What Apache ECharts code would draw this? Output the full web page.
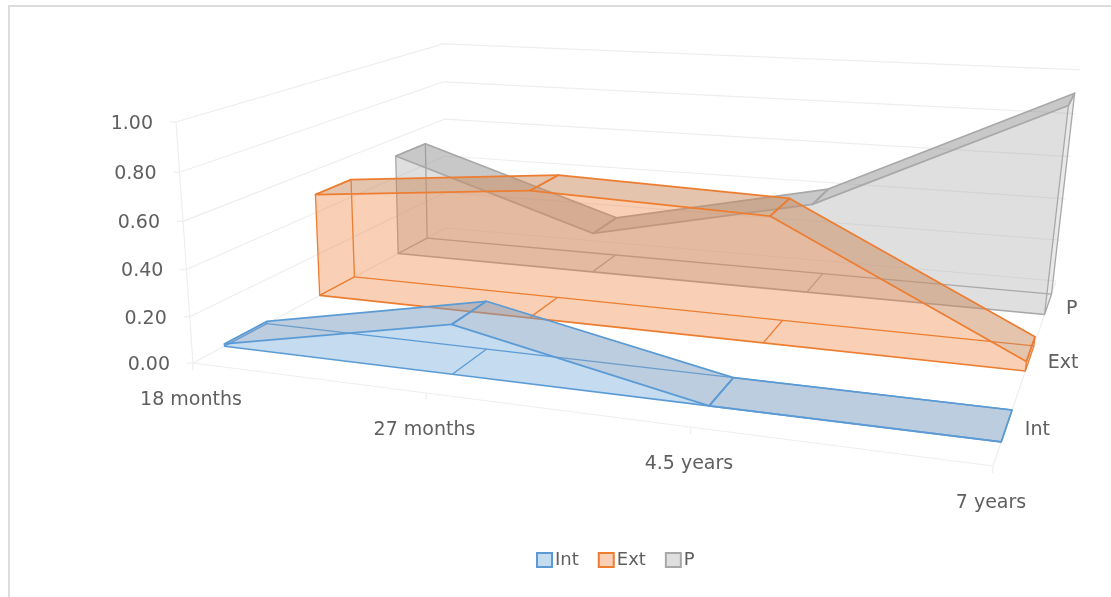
<!DOCTYPE html>
<html>
<head>
<meta charset="utf-8">
<title>Int, Ext and P by age</title>
<style>html,body{margin:0;padding:0;background:#fff}#chart{width:1111px;height:597px}</style>
<script src="https://cdn.jsdelivr.net/npm/echarts@6/dist/echarts.min.js"></script>
</head>
<body>
<div id="chart"></div>
<script>
// Chart content
const categories = ['18 months', '27 months', '4.5 years', '7 years'];
const seriesNames = ['Int', 'Ext', 'P'];
const intValues = [0.01, 0.21, 0.0, 0.0];
const extValues = [0.485, 0.58, 0.55, 0.04];
const pValues = [0.51, 0.195, 0.42, 0.93];
const valueTicks = [0, 0.2, 0.4, 0.6, 0.8, 1.0];

// Perspective box the chart stands in: floor corners and the top of the front-left edge.
const FLOOR = { fl: [193, 363], fr: [993, 466], bl: [446, 228], br: [1056, 281] };
const TOP_FL = [176, 122];
const LIFT_W = -0.05;

const sx = FLOOR.fl[0] - FLOOR.fr[0] + FLOOR.br[0] - FLOOR.bl[0];
const sy = FLOOR.fl[1] - FLOOR.fr[1] + FLOOR.br[1] - FLOOR.bl[1];
const d1x = FLOOR.fr[0] - FLOOR.br[0], d1y = FLOOR.fr[1] - FLOOR.br[1];
const d2x = FLOOR.bl[0] - FLOOR.br[0], d2y = FLOOR.bl[1] - FLOOR.br[1];
const den = d1x * d2y - d2x * d1y;
const wu = (sx * d2y - d2x * sy) / den;
const wv = (d1x * sy - sx * d1y) / den;

// Maps width (u), depth (v) and height (z), each 0..1, to screen pixels.
function project(u, v, z) {
  const w = 1 + wu * u + wv * v + LIFT_W * z;
  const f = i =>
    ((FLOOR.fr[i] * (1 + wu) - FLOOR.fl[i]) * u +
      (FLOOR.bl[i] * (1 + wv) - FLOOR.fl[i]) * v +
      (TOP_FL[i] * (1 + LIFT_W) - FLOOR.fl[i]) * z +
      FLOOR.fl[i]) / w;
  return [f(0), f(1)];
}

// Reads a category/value pair through the hidden axes and returns unit coordinates.
function toUnit(params, api, cat, value) {
  const c = api.coord([cat, value]);
  const s = params.coordSys;
  return [(c[0] - s.x) / s.width, (s.y + s.height - c[1]) / s.height];
}

const BAND_HALF = 0.07;
const TEXT = '#5f5f5f';
const FONT = '19px "DejaVu Sans"';
const GRID_LINE = '#eeeeee';

const palette = {
  Int: { line: '#5b9bd5', face: 'rgba(91,155,213,0.36)', top: 'rgba(121,155,193,0.5)', end: 'rgba(91,155,213,0.2)' },
  Ext: { line: '#ed7d31', face: 'rgba(237,125,49,0.36)', top: 'rgba(203,137,91,0.5)', end: 'rgba(203,137,91,0.25)' },
  P: { line: '#a8a8a8', face: 'rgba(165,165,165,0.36)', top: 'rgba(145,145,145,0.5)', end: 'rgba(145,145,145,0.2)' }
};

function poly(points, fill, stroke, lineWidth) {
  return {
    type: 'polygon',
    shape: { points },
    style: { fill: fill || 'none', stroke: stroke || 'none', lineWidth: lineWidth || 0, lineJoin: 'round' },
    silent: true
  };
}
function seg(a, b, stroke, lineWidth) {
  return {
    type: 'line',
    shape: { x1: a[0], y1: a[1], x2: b[0], y2: b[1] },
    style: { stroke, lineWidth, fill: 'none' },
    silent: true
  };
}

// One area ribbon: floor outline, end faces, front face and sloped top, one data item per category.
function ribbonRenderer(name, slot) {
  const col = palette[name];
  const vFront = (slot + 0.5) / seriesNames.length - BAND_HALF;
  const vBack = (slot + 0.5) / seriesNames.length + BAND_HALF;
  return function (params, api) {
    const i = params.dataIndex;
    const n = categories.length;
    const at = (j, v, base) => {
      const t = toUnit(params, api, j, base ? 0 : api.value(1, j));
      return project(t[0], v, t[1]);
    };
    const kids = [];
    if (i === 0 || i === n - 1) {
      const endFill = i === 0 ? null : col.end;
      kids.push(poly([at(i, vFront, true), at(i, vBack, true), at(i, vBack), at(i, vFront)], endFill, col.line, 1.3));
    }
    if (i === 0) {
      const front = [];
      for (let j = 0; j < n; j++) front.push(at(j, vFront));
      for (let j = n - 1; j >= 0; j--) front.push(at(j, vFront, true));
      kids.push(poly(front, col.face, null, 0));
    }
    if (i < n - 1) {
      kids.push(seg(at(i, vBack, true), at(i + 1, vBack, true), col.line, 1.3));
      kids.push(seg(at(i, vFront, true), at(i + 1, vFront, true), col.line, 1.6));
      kids.push(poly([at(i, vFront), at(i, vBack), at(i + 1, vBack), at(i + 1, vFront)], col.top, col.line, 1.7));
    }
    if (i > 0 && i < n - 1) {
      kids.push(seg(at(i, vFront, true), at(i, vBack, true), col.line, 1.3));
    }
    return { type: 'group', children: kids };
  };
}

function ribbon(name, slot, values, z) {
  const col = palette[name];
  return {
    type: 'custom',
    name,
    z,
    silent: true,
    coordinateSystem: 'cartesian2d',
    itemStyle: { color: col.face, borderColor: col.line, borderWidth: 2 },
    encode: { x: 0, y: 1 },
    data: values.map((v, i) => [i, v]),
    renderItem: ribbonRenderer(name, slot),
    clip: false
  };
}

// Value gridlines across the left and back walls, with value labels on the front-left edge.
const valueFrame = {
  type: 'custom',
  z: 1,
  silent: true,
  encode: { x: 0, y: 1 },
  data: valueTicks.map(t => [0, t]),
  clip: false,
  renderItem(params, api) {
    const t = toUnit(params, api, 0, api.value(1));
    const h = t[1];
    const a = project(0, 0, h), b = project(0, 1, h), c = project(1, 1, h);
    const kids = [
      seg(a, b, GRID_LINE, 1.2),
      seg(b, c, GRID_LINE, 1.2),
      seg([a[0] - 6, a[1]], a, GRID_LINE, 1.2),
      {
        type: 'text',
        silent: true,
        style: { text: api.value(1).toFixed(2), x: a[0] - 23, y: a[1] + 2, fill: TEXT, font: FONT, align: 'right', verticalAlign: 'middle' }
      }
    ];
    if (params.dataIndex === 0) {
      const top = toUnit(params, api, 0, 1)[1];
      kids.push(seg(a, project(0, 0, top), GRID_LINE, 1.2));
      kids.push(seg(a, project(1, 0, h), GRID_LINE, 1.2));
      kids.push(seg(project(1, 0, h), project(1, 1, h), GRID_LINE, 1.2));
    }
    return { type: 'group', children: kids };
  }
};

// Category ticks and labels along the front edge of the floor.
const categoryFrame = {
  type: 'custom',
  z: 1,
  silent: true,
  encode: { x: 0, y: 1 },
  data: categories.map((c, i) => [i, 0]),
  clip: false,
  renderItem(params, api) {
    const i = params.dataIndex;
    const t = toUnit(params, api, i, 0);
    const p = project(t[0], 0, 0);
    return {
      type: 'group',
      children: [
        seg(p, [p[0] - 0.5, p[1] + 7], GRID_LINE, 1.2),
        {
          type: 'text',
          silent: true,
          style: { text: categories[i], x: p[0] - 2, y: p[1] + 37, fill: TEXT, font: FONT, align: 'center', verticalAlign: 'middle' }
        }
      ]
    };
  }
};

// Series names along the right edge of the floor.
const depthFrame = {
  type: 'custom',
  z: 1,
  silent: true,
  encode: { x: 0, y: 1 },
  data: seriesNames.map((s, i) => [categories.length - 1, 0]),
  clip: false,
  renderItem(params, api) {
    const i = params.dataIndex;
    const t = toUnit(params, api, api.value(0), 0);
    const p = project(t[0], (i + 0.5) / seriesNames.length, 0);
    return {
      type: 'text',
      silent: true,
      style: { text: seriesNames[i], x: p[0] + 18, y: p[1] + 5, fill: TEXT, font: FONT, align: 'left', verticalAlign: 'middle' }
    };
  }
};

const chart = echarts.init(document.getElementById('chart'), null, { renderer: 'canvas' });
chart.setOption({
  animation: false,
  backgroundColor: '#ffffff',
  grid: { left: 100, top: 100, width: 800, height: 300, show: false },
  xAxis: { type: 'category', boundaryGap: false, data: categories, show: false },
  yAxis: { type: 'value', min: 0, max: 1, show: false },
  legend: {
    data: seriesNames,
    left: 531,
    top: 546,
    itemWidth: 15,
    itemHeight: 14,
    itemGap: 19,
    icon: 'rect',
    selectedMode: false,
    textStyle: { color: TEXT, fontFamily: 'DejaVu Sans', fontSize: 18, padding: [0, 0, 0, -2] }
  },
  graphic: [
    { type: 'rect', shape: { x: 8, y: 5, width: 1103, height: 2 }, style: { fill: '#dcdcdc' }, silent: true },
    { type: 'rect', shape: { x: 8, y: 5, width: 2, height: 592 }, style: { fill: '#dcdcdc' }, silent: true }
  ],
  series: [
    valueFrame,
    categoryFrame,
    depthFrame,
    ribbon('P', 2, pValues, 3),
    ribbon('Ext', 1, extValues, 4),
    ribbon('Int', 0, intValues, 5)
  ]
});
</script>
</body>
</html>
